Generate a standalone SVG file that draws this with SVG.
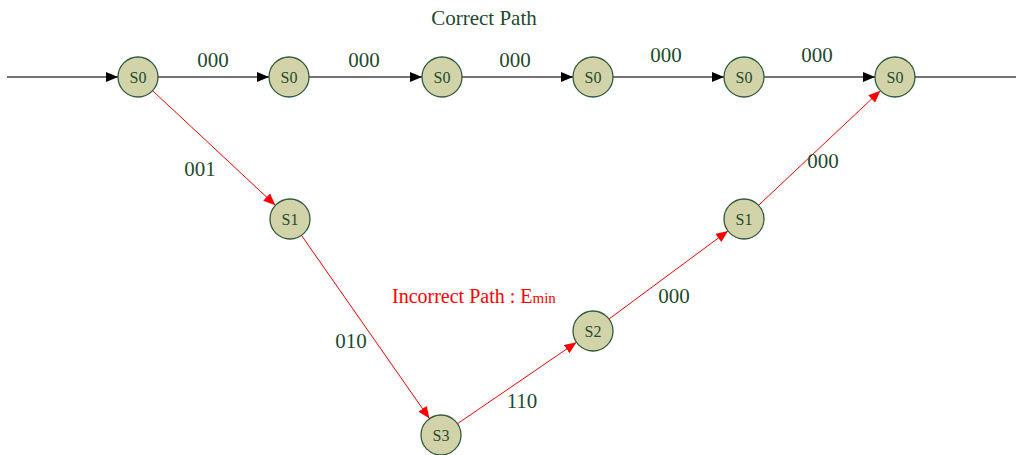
<svg xmlns="http://www.w3.org/2000/svg" width="1016" height="455" viewBox="0 0 1016 455">
  <style>
    .node circle { fill: #d3d3a9; stroke: #2e5a3c; stroke-width: 1.3; }
    .node text { font-family: "Liberation Serif", serif; font-size: 16px; fill: #1e4b2e; text-anchor: middle; }
    .lbl { font-family: "Liberation Serif", serif; font-size: 21px; fill: #1e4b2e; text-anchor: middle; }
    .ok { stroke: #444; stroke-width: 1.3; fill: none; marker-end: url(#arrowK); }
    .bad { stroke: #ff0000; stroke-width: 1; fill: none; marker-end: url(#arrowR); }
  </style>
  <defs>
    <marker id="arrowK" markerUnits="userSpaceOnUse" markerWidth="12" markerHeight="10" refX="12" refY="5" orient="auto">
      <path d="M0,0 L12,5 L0,10 Z" fill="#000"/>
    </marker>
    <marker id="arrowR" markerUnits="userSpaceOnUse" markerWidth="12" markerHeight="10" refX="12" refY="5" orient="auto">
      <path d="M0,0 L12,5 L0,10 Z" fill="#ff0000"/>
    </marker>
  </defs>
  <rect width="1016" height="455" fill="#fff"/>

  <g id="connectors">
    <line class="ok" x1="7" y1="77" x2="118" y2="77"/>
    <line class="ok" x1="158" y1="77" x2="269" y2="77"/>
    <line class="ok" x1="309" y1="77" x2="422" y2="77"/>
    <line class="ok" x1="462" y1="77" x2="573" y2="77"/>
    <line class="ok" x1="613" y1="77" x2="724" y2="77"/>
    <line class="ok" x1="764" y1="77" x2="875" y2="77"/>
    <line stroke="#444" stroke-width="1.3" x1="915" y1="77" x2="1016" y2="77"/>
    <line class="bad" x1="152.6" y1="90.7" x2="275.4" y2="205.3"/>
    <line class="bad" x1="301.5" y1="235.4" x2="429.5" y2="418.6"/>
    <line class="bad" x1="457.5" y1="423.7" x2="576.5" y2="342.3"/>
    <line class="bad" x1="609" y1="319" x2="728" y2="230.9"/>
    <line class="bad" x1="758.6" y1="205.3" x2="880.4" y2="90.7"/>
  </g>

  <g id="n0" class="node"><circle cx="138" cy="77" r="20"/><text x="138" y="83">S0</text></g>
  <g id="n1" class="node"><circle cx="289" cy="77" r="20"/><text x="289" y="83">S0</text></g>
  <g id="n2" class="node"><circle cx="442" cy="77" r="20"/><text x="442" y="83">S0</text></g>
  <g id="n3" class="node"><circle cx="593" cy="77" r="20"/><text x="593" y="83">S0</text></g>
  <g id="n4" class="node"><circle cx="744" cy="77" r="20"/><text x="744" y="83">S0</text></g>
  <g id="n5" class="node"><circle cx="895" cy="77" r="20"/><text x="895" y="83">S0</text></g>
  <g id="m1" class="node"><circle cx="290" cy="219" r="20"/><text x="290" y="225">S1</text></g>
  <g id="m3" class="node"><circle cx="441" cy="435" r="20"/><text x="441" y="441">S3</text></g>
  <g id="m2" class="node"><circle cx="593" cy="331" r="20"/><text x="593" y="337">S2</text></g>
  <g id="m4" class="node"><circle cx="744" cy="219" r="20"/><text x="744" y="225">S1</text></g>

  <g id="labels">
    <text class="lbl" x="213" y="67">000</text>
    <text class="lbl" x="364" y="67">000</text>
    <text class="lbl" x="515" y="67">000</text>
    <text class="lbl" x="666" y="62">000</text>
    <text class="lbl" x="817" y="62">000</text>
    <text class="lbl" x="200" y="176">001</text>
    <text class="lbl" x="351" y="348">010</text>
    <text class="lbl" x="522" y="408">110</text>
    <text class="lbl" x="674" y="303">000</text>
    <text class="lbl" x="823" y="168">000</text>
    <text class="lbl" x="484" y="25" font-size="20">Correct Path</text>
    <text font-family="Liberation Serif, serif" font-size="20" fill="#ff0000" x="392" y="303">Incorrect Path : E<tspan font-size="15">min</tspan></text>
  </g>
</svg>
